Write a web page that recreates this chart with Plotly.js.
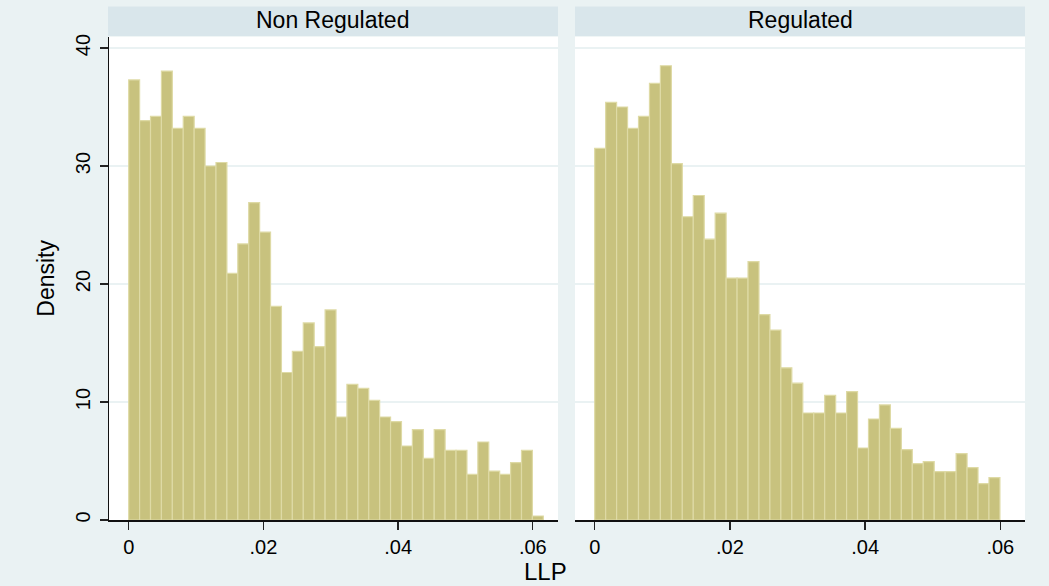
<!DOCTYPE html>
<html>
<head>
<meta charset="utf-8">
<script src="https://cdn.plot.ly/plotly-3.0.1.min.js"></script>
<style>html,body{margin:0;padding:0;background:#fff;}#chart{width:1049px;height:586px;}</style>
</head>
<body>
<div id="chart"></div>
<script>
// Histogram densities (bin width ~0.00162, starting at 0)
const panelTitles = ["Non Regulated", "Regulated"];
const binWidth = 0.00162;
const binStart = 0;
const densityNonRegulated = [37.3, 33.85, 34.2, 38.05, 33.2, 34.2, 33.2, 30.0, 30.3, 20.9,
  23.4, 26.9, 24.4, 18.1, 12.5, 14.3, 16.7, 14.7, 17.8, 8.73,
  11.5, 11.16, 10.14, 8.73, 8.34, 6.27, 7.66, 5.23, 7.66, 5.9,
  5.9, 3.87, 6.61, 4.15, 3.87, 4.86, 5.9, 0.34];
const densityRegulated = [31.5, 35.4, 35.0, 33.2, 34.2, 37.0, 38.5, 30.2, 25.7, 27.5,
  23.8, 26.0, 20.5, 20.5, 21.9, 17.4, 16.1, 12.9, 11.6, 9.07,
  9.07, 10.57, 9.07, 10.88, 6.1, 8.56, 9.75, 7.77, 5.96, 4.78,
  4.95, 4.1, 4.1, 5.63, 4.44, 3.08, 3.59];
const xTickVals = [0, 0.02, 0.04, 0.06];
const xTickText = ["0", ".02", ".04", ".06"];
const yTickVals = [0, 10, 20, 30, 40];
const yTickText = ["0", "10", "20", "30", "40"];

const W = 1049, H = 586;
const fill = "rgb(200,194,126)";
const outline = "rgb(222,218,165)";
const FAM = "Liberation Sans, Arial, sans-serif";

function centers(arr) { return arr.map((_, i) => binStart + (i + 0.5) * binWidth); }

const traces = [
  { type: "bar", x: centers(densityNonRegulated), y: densityNonRegulated, width: binWidth,
    xaxis: "x", yaxis: "y", marker: { color: fill, line: { color: outline, width: 1.2 } }, hoverinfo: "skip" },
  { type: "bar", x: centers(densityRegulated), y: densityRegulated, width: binWidth,
    xaxis: "x2", yaxis: "y2", marker: { color: fill, line: { color: outline, width: 1.2 } }, hoverinfo: "skip" }
];

const tickFont = { family: FAM, size: 20, color: "#000" };
const px = v => v / W;
const py = v => (H - v) / H;

const xCommon = {
  tickvals: xTickVals, ticktext: xTickText, ticks: "outside", ticklen: 8, tickwidth: 1.3, tickcolor: "#222",
  showline: true, linecolor: "#111", linewidth: 1.5, showgrid: false, zeroline: false,
  tickfont: tickFont, ticklabelstandoff: 0
};
const yCommon = {
  range: [0, 40.96], tickvals: yTickVals, ticktext: yTickText, showgrid: true,
  gridcolor: "rgb(234,242,243)", gridwidth: 1.2, zeroline: false
};

const layout = {
  width: W, height: H,
  margin: { l: 0, r: 0, t: 0, b: 0 },
  paper_bgcolor: "rgb(234,242,243)",
  plot_bgcolor: "#ffffff",
  showlegend: false,
  bargap: 0,
  xaxis: Object.assign({}, xCommon, { domain: [px(109), px(558)], range: [-0.002925, 0.06374], anchor: "y" }),
  xaxis2: Object.assign({}, xCommon, { domain: [px(575), px(1025)], range: [-0.002914, 0.06365], anchor: "y2" }),
  yaxis: Object.assign({}, yCommon, {
    domain: [py(520), py(36.7)], anchor: "x",
    showline: true, linecolor: "#111", linewidth: 1.5,
    ticks: "outside", ticklen: 8, tickwidth: 1.3, tickcolor: "#222",
    tickangle: -90, tickfont: tickFont, ticklabelstandoff: 2,
    title: { text: "Density", font: { family: FAM, size: 23, color: "#000" }, standoff: 10 }
  }),
  yaxis2: Object.assign({}, yCommon, {
    domain: [py(520), py(36.7)], anchor: "x2", showline: false, showticklabels: false, ticks: ""
  }),
  shapes: [
    { type: "rect", xref: "paper", yref: "paper", x0: px(108), x1: px(558), y0: py(36), y1: py(6.5),
      fillcolor: "rgb(217,230,235)", line: { width: 0 }, layer: "below" },
    { type: "rect", xref: "paper", yref: "paper", x0: px(575), x1: px(1025), y0: py(36), y1: py(6.5),
      fillcolor: "rgb(217,230,235)", line: { width: 0 }, layer: "below" }
  ],
  annotations: [
    { text: panelTitles[0], xref: "paper", yref: "paper", x: px(332), y: py(20), showarrow: false,
      xanchor: "center", yanchor: "middle", font: { family: FAM, size: 23, color: "#000" } },
    { text: panelTitles[1], xref: "paper", yref: "paper", x: px(800), y: py(20), showarrow: false,
      xanchor: "center", yanchor: "middle", font: { family: FAM, size: 23, color: "#000" } },
    { text: "LLP", xref: "paper", yref: "paper", x: px(545), y: py(571), showarrow: false,
      xanchor: "center", yanchor: "middle", font: { family: FAM, size: 24, color: "#000" } }
  ]
};

Plotly.newPlot("chart", traces, layout, { staticPlot: true, displayModeBar: false });
</script>
</body>
</html>
